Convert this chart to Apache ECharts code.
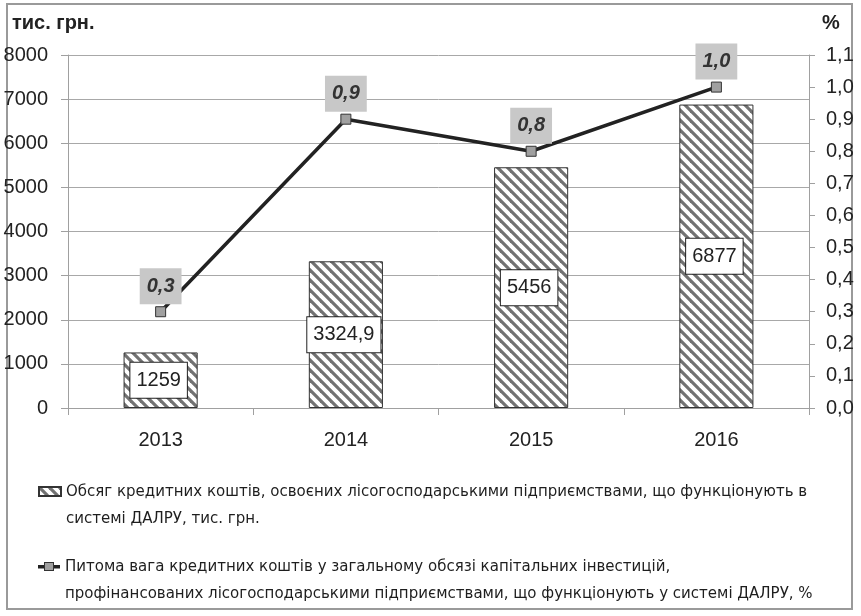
<!DOCTYPE html>
<html>
<head>
<meta charset="utf-8">
<script src="https://cdn.jsdelivr.net/npm/echarts@6/dist/echarts.min.js"></script>
<style>
  html, body { margin: 0; padding: 0; background: #fff; }
  #chart { width: 861px; height: 616px; }
</style>
</head>
<body>
<div id="chart"></div>
<script>
const years = ['2013', '2014', '2015', '2016'];
const creditVolume = [1259, 3324.9, 5456, 6877];
const creditShare = [0.3, 0.9, 0.8, 1.0];

const volumeLines = [
  'Обсяг кредитних коштів, освоєних лісогосподарськими підприємствами, що функціонують в',
  'системі ДАЛРУ, тис. грн.'
];
const shareLines = [
  'Питома вага кредитних коштів у загальному обсязі капітальних інвестицій,',
  'профінансованих лісогосподарськими підприємствами, що функціонують у системі ДАЛРУ, %'
];
const volumeName = volumeLines.join(' ');
const shareName = shareLines.join(' ');

const comma = (v, d) => (d == null ? String(v) : v.toFixed(d)).replace('.', ',');

// diagonal hatch like the original bars
const hatch = document.createElement('canvas');
hatch.width = 10;
hatch.height = 10;
const hc = hatch.getContext('2d');
hc.fillStyle = '#fff';
hc.fillRect(0, 0, 10, 10);
hc.strokeStyle = '#727272';
hc.lineWidth = 3.2;
for (let k = -1; k <= 1; k++) {
  hc.beginPath();
  hc.moveTo(k * 10 - 5, -5);
  hc.lineTo(k * 10 + 15, 15);
  hc.stroke();
}

// legend icon for the line: thick stroke with a grey square marker
const lineIcon = document.createElement('canvas');
lineIcon.width = 22;
lineIcon.height = 11;
const lc = lineIcon.getContext('2d');
lc.fillStyle = '#222';
lc.fillRect(0, 4, 22, 3.5);
lc.fillStyle = '#a0a0a0';
lc.strokeStyle = '#333';
lc.lineWidth = 1;
lc.fillRect(6.5, 1.5, 9, 8);
lc.strokeRect(6.5, 1.5, 9, 8);

const chart = echarts.init(document.getElementById('chart'));
const font = '"Liberation Sans", Arial, sans-serif';
const narrow = '"Liberation Sans Narrow", "Arial Narrow", "DejaVu Sans Condensed", "Liberation Sans", sans-serif';

// legend text: blank first line so the icon sits beside the first real line
const legendText = name => {
  const lines = name === volumeName ? volumeLines : shareLines;
  return ' \n' + lines.join('\n');
};

const legendBase = {
  left: 38,
  padding: 0,
  itemWidth: 22,
  formatter: legendText,
  textStyle: { fontFamily: narrow, fontSize: 16.7, color: '#1e1e1e', lineHeight: 27 }
};

const option = {
  animation: false,
  textStyle: { fontFamily: font },
  graphic: [
    {
      type: 'rect',
      shape: { x: 7, y: 4, width: 845, height: 605 },
      style: { fill: 'none', stroke: '#9a9a9a', lineWidth: 2 },
      z: 0
    },
    {
      type: 'text', left: 12, top: 13,
      style: { text: 'тис. грн.', font: 'bold 20px ' + font, fill: '#222' }
    },
    {
      type: 'text', left: 822, top: 13,
      style: { text: '%', font: 'bold 20px ' + font, fill: '#222' }
    }
  ],
  grid: { left: 68, right: 52, top: 55, bottom: 208, outerBoundsMode: 'none' },
  legend: [
    Object.assign({}, legendBase, {
      data: [{ name: volumeName, icon: 'rect' }],
      top: 451,
      itemHeight: 9
    }),
    Object.assign({}, legendBase, {
      data: [{ name: shareName, icon: 'image://' + lineIcon.toDataURL() }],
      top: 526,
      itemHeight: 11
    })
  ],
  xAxis: {
    type: 'category',
    data: years,
    axisLine: { lineStyle: { color: '#a0a0a0' } },
    axisTick: { show: true, length: 7, lineStyle: { color: '#a0a0a0' } },
    axisLabel: { fontSize: 20, color: '#222', margin: 22 }
  },
  yAxis: [
    {
      type: 'value',
      min: 0, max: 8000, interval: 1000,
      axisLine: { show: true, lineStyle: { color: '#a0a0a0' } },
      axisTick: { show: true, length: 7, lineStyle: { color: '#a0a0a0' } },
      axisLabel: { fontSize: 20, color: '#222', margin: 20, formatter: v => String(v) },
      splitLine: { lineStyle: { color: '#a8a8a8' } }
    },
    {
      type: 'value',
      min: 0, max: 1.1, interval: 0.1,
      axisLine: { show: true, lineStyle: { color: '#a0a0a0' } },
      axisTick: { show: true, length: 6, lineStyle: { color: '#a0a0a0' } },
      axisLabel: { fontSize: 20, color: '#222', margin: 17, formatter: v => comma(v, 1) },
      splitLine: { show: false }
    }
  ],
  series: [
    {
      name: volumeName,
      type: 'bar',
      data: creditVolume,
      barWidth: '40%',
      itemStyle: {
        color: { image: hatch, repeat: 'repeat' },
        borderColor: '#333',
        borderWidth: 1
      },
      label: {
        show: true,
        position: 'inside',
        offset: [-2, 0],
        formatter: p => comma(p.value),
        fontSize: 20,
        lineHeight: 20,
        color: '#222',
        backgroundColor: '#fff',
        borderColor: '#222',
        borderWidth: 1,
        padding: [8, 6, 7, 6]
      }
    },
    {
      name: shareName,
      type: 'line',
      yAxisIndex: 1,
      data: creditShare,
      symbol: 'rect',
      symbolSize: 10,
      lineStyle: { color: '#222', width: 3.5 },
      itemStyle: { color: '#a0a0a0', borderColor: '#333', borderWidth: 1 },
      label: {
        show: true,
        position: 'top',
        distance: 2,
        formatter: p => comma(p.value, 1),
        fontSize: 20,
        lineHeight: 20,
        fontWeight: 'bold',
        fontStyle: 'italic',
        color: '#333',
        backgroundColor: '#c8c8c8',
        padding: [8, 7, 8, 7]
      },
      z: 5
    }
  ]
};

chart.setOption(option);
</script>
</body>
</html>
